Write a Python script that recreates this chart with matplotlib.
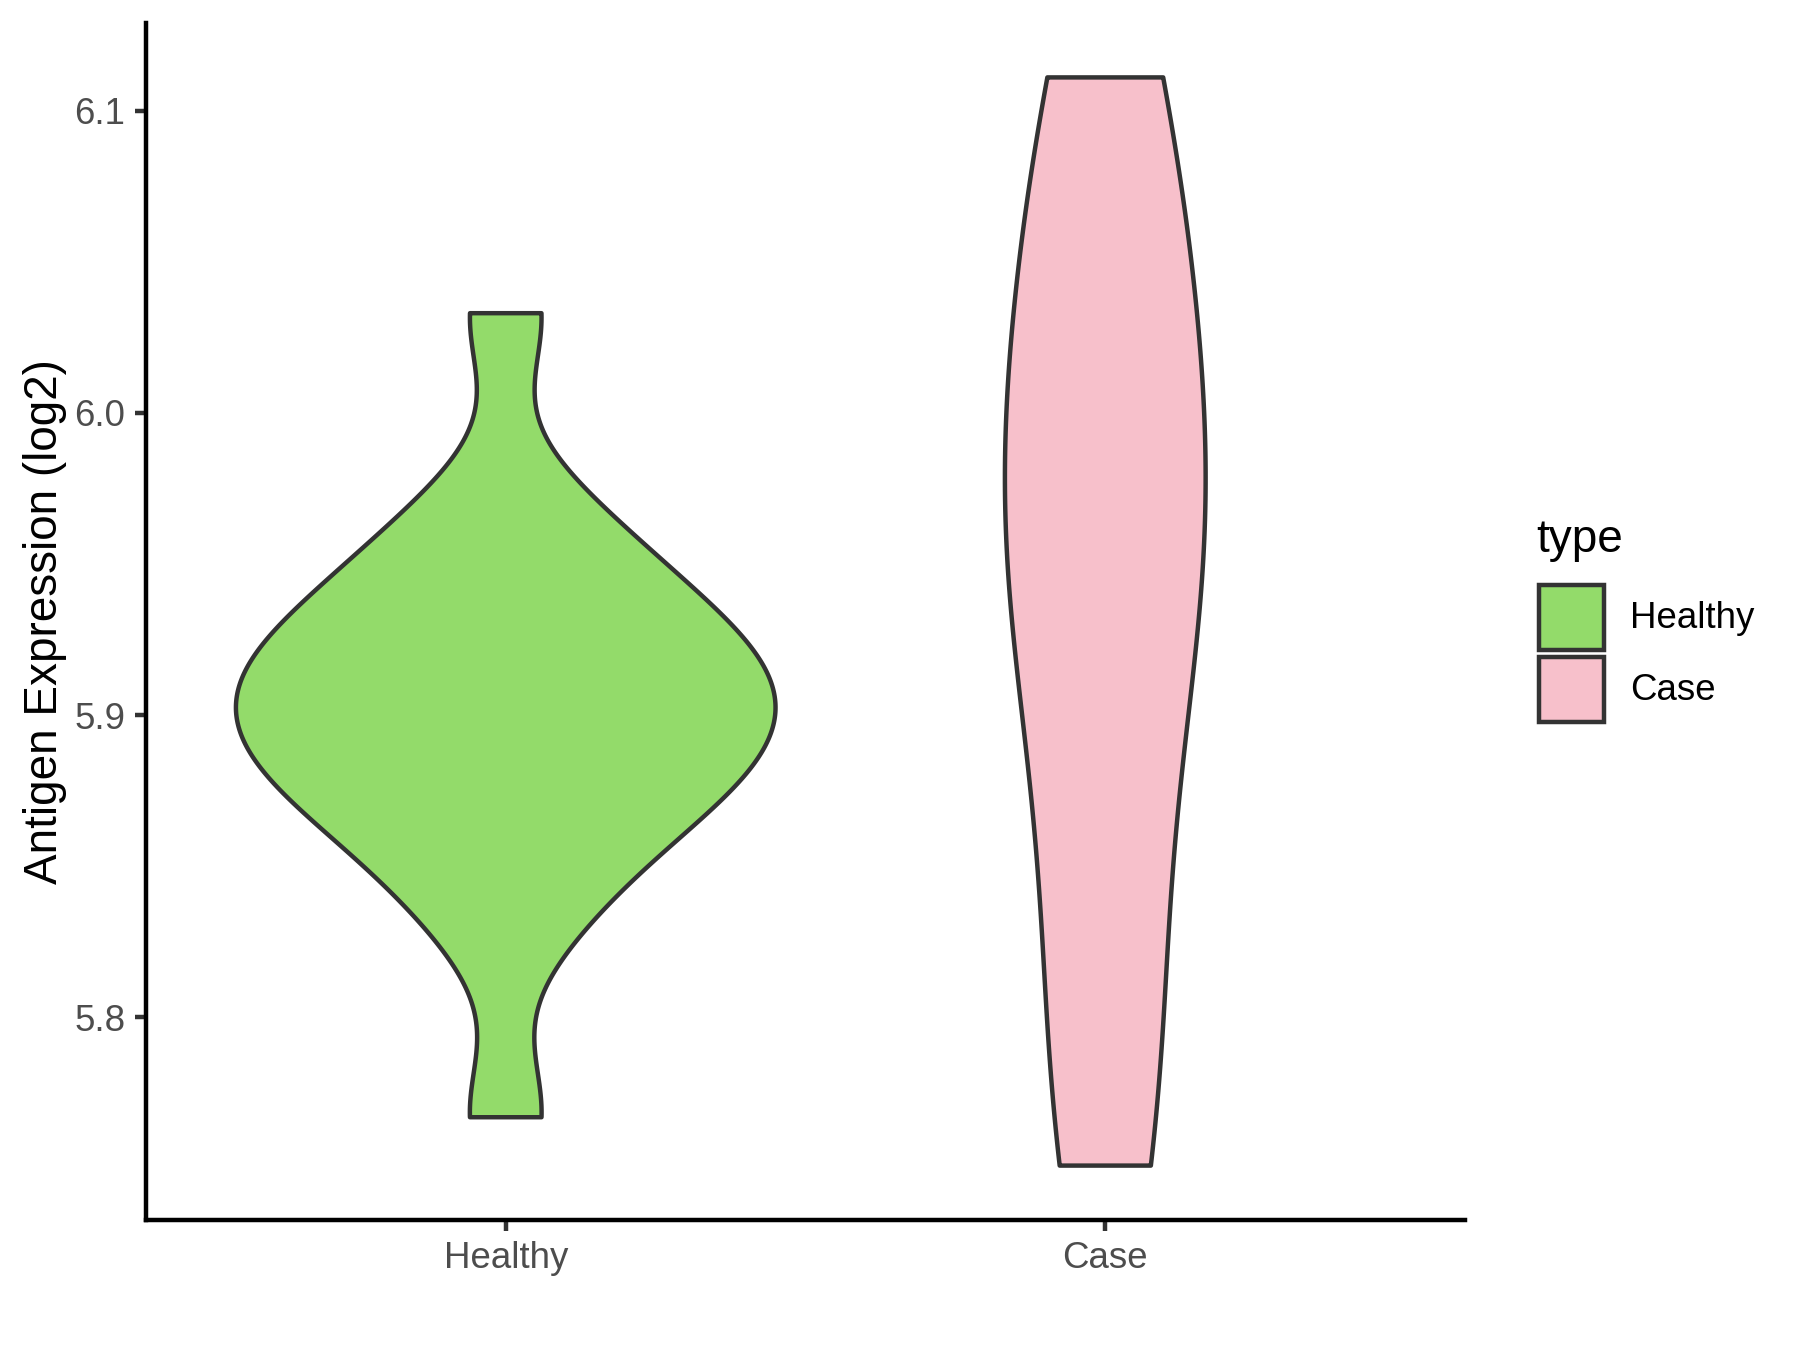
import numpy as np
import matplotlib
matplotlib.use("Agg")
import matplotlib.pyplot as plt
from matplotlib.patches import Rectangle

# antigen expression (log2) per sample
groups = ["Healthy", "Case"]
healthy_values = [5.767, 5.828, 5.849, 5.862, 5.871, 5.879, 5.886, 5.893, 5.899,
                  5.905, 5.912, 5.918, 5.925, 5.933, 5.942, 5.955, 5.971, 6.033]
case_values = [5.751, 5.815, 5.895, 5.940, 5.975, 6.008, 6.062, 6.111]
fill_colours = ["#93DB6A", "#F7C0CB"]
y_ticks = [5.8, 5.9, 6.0, 6.1]

plt.rcParams["font.family"] = ["Liberation Sans", "DejaVu Sans"]

W, H = 1800, 1350
EDGE = "#333333"
LW = 1.07


def bw_nrd0(x):
    # same rule of thumb R's density() uses by default
    x = np.asarray(x)
    sd = x.std(ddof=1)
    q75, q25 = np.percentile(x, [75, 25])
    lo = min(sd, (q75 - q25) / 1.34)
    return 0.9 * lo * len(x) ** -0.2


def violin_density(x, n=512):
    x = np.asarray(x)
    bw = bw_nrd0(x)
    ys = np.linspace(x.min(), x.max(), n)  # trimmed to the data range
    z = (ys[:, None] - x[None, :]) / bw
    dens = np.exp(-0.5 * z ** 2).sum(axis=1) / (len(x) * bw * np.sqrt(2 * np.pi))
    return ys, dens


fig = plt.figure(figsize=(6, 4.5), dpi=300)
ax = fig.add_axes([146 / W, 1 - 1220 / H, (1465 - 146) / W, (1220 - 23) / H])

curves = [violin_density(v) for v in (healthy_values, case_values)]
max_dens = max(d.max() for _, d in curves)  # scale = "area"

for i, (ys, dens) in enumerate(curves):
    pos = i + 1
    half = 0.45 * dens / max_dens
    xs = np.concatenate([pos + half, (pos - half)[::-1]])
    yy = np.concatenate([ys, ys[::-1]])
    ax.fill(xs, yy, facecolor=fill_colours[i], edgecolor=EDGE, linewidth=LW,
            joinstyle="round", zorder=2)

all_vals = np.concatenate([healthy_values, case_values])
lo, hi = all_vals.min(), all_vals.max()
pad = 0.05 * (hi - lo)
ax.set_ylim(lo - pad, hi + pad)
ax.set_xlim(0.4, 2.6)

ax.set_xticks([1, 2])
ax.set_xticklabels(groups)
ax.set_yticks(y_ticks)
ax.set_yticklabels(["%.1f" % t for t in y_ticks])
ax.tick_params(axis="both", direction="out", length=2.75, width=LW,
               color=EDGE, labelcolor="#4D4D4D", labelsize=8.8, pad=2.2)

for side in ["top", "right"]:
    ax.spines[side].set_visible(False)
for side in ["left", "bottom"]:
    ax.spines[side].set_linewidth(LW)
    ax.spines[side].set_color("black")
    ax.spines[side].set_capstyle("projecting")

ax.set_ylabel("Antigen Expression (log2)", fontsize=11, labelpad=1.8)

# legend drawn by hand so the keys sit like ggplot's
fig.text(1536 / W, 1 - 540 / H, "type", fontsize=11, ha="left", va="center")
key_tops = [585, 657]
for colour, name, top in zip(fill_colours, groups, key_tops):
    fig.add_artist(Rectangle((1539 / W, 1 - (top + 65) / H), 65 / W, 65 / H,
                             transform=fig.transFigure, facecolor=colour,
                             edgecolor=EDGE, linewidth=LW))
    fig.text(1630 / W, 1 - (top + 33) / H, name, fontsize=8.8,
             ha="left", va="center")

fig.savefig("out.png", dpi=300, facecolor="white")
